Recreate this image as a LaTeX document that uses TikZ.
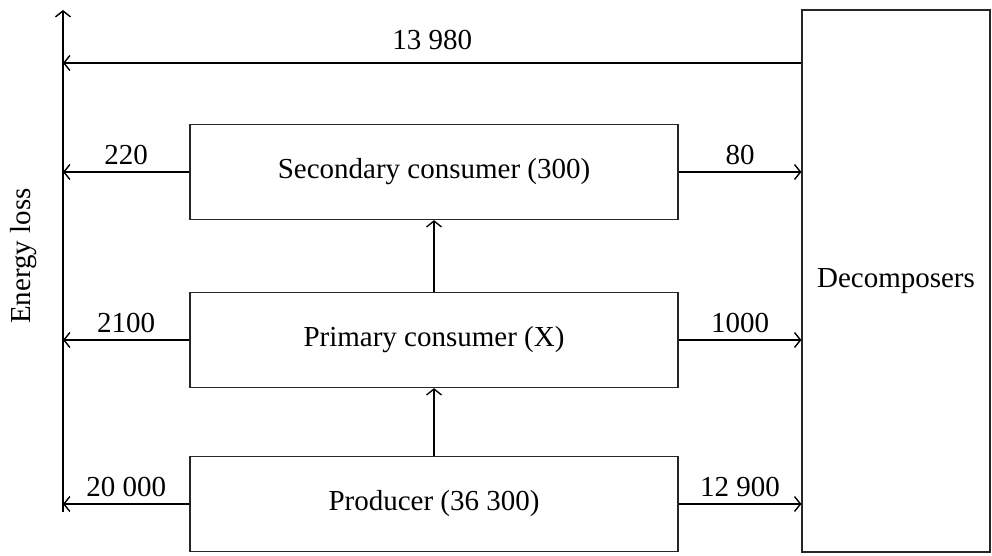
\documentclass[tikz,border=0pt]{standalone}
\usepackage{fontspec}
\setmainfont{Liberation Serif}
\usetikzlibrary{arrows.meta,positioning}

\tikzset{
  level/.style={draw=black!85, line width=0.6pt, minimum width=244pt, minimum height=47.5pt, inner sep=0pt},
  flow/.style={line width=0.7pt, -{Straight Barb[length=3pt,width=7.5pt]}},
  flowlabel/.style={above, inner sep=3.5pt}
}

\begin{document}
\begin{tikzpicture}[x=0.5pt, y=-0.5pt, font=\fontsize{14.5}{17.5}\selectfont]
\useasboundingbox (0,0) rectangle (992,556);

% Trophic levels
\node[level] (sec) at (434, 172) {Secondary consumer (300)};
\node[level] (pri) at (434, 340) {Primary consumer (X)};
\node[level] (pro) at (434, 504) {Producer (36 300)};

% Decomposers
\node[draw=black!85, line width=0.6pt, minimum width=94pt, minimum height=271pt, inner sep=0pt] (dec) at (896, 281) {Decomposers};

% Energy loss axis
\coordinate (axbot) at (63, 512);
\coordinate (axtop) at (63, 10);
\draw[flow] (axbot) -- (axtop);
\node[rotate=90] (loss) at (24, 256) {Energy loss};

% Loss from decomposers
\coordinate (decout) at (dec.west |- 0, 63);
\draw[flow] (decout) -- (decout -| axbot) node[midway, flowlabel, inner sep=6.5pt] {13 980};

% Losses to the left
\draw[flow] (sec.west) -- (sec.west -| axbot) node[midway, flowlabel] {220};
\draw[flow] (pri.west) -- (pri.west -| axbot) node[midway, flowlabel] {2100};
\draw[flow] (pro.west) -- (pro.west -| axbot) node[midway, flowlabel] {20 000};

% Flows to decomposers
\draw[flow] (sec.east) -- (sec.east -| dec.west) node[midway, flowlabel] {80};
\draw[flow] (pri.east) -- (pri.east -| dec.west) node[midway, flowlabel] {1000};
\draw[flow] (pro.east) -- (pro.east -| dec.west) node[midway, flowlabel] {12 900};

% Upward flows
\draw[flow] (pro.north) -- (pri.south);
\draw[flow] (pri.north) -- (sec.south);

\end{tikzpicture}
\end{document}
